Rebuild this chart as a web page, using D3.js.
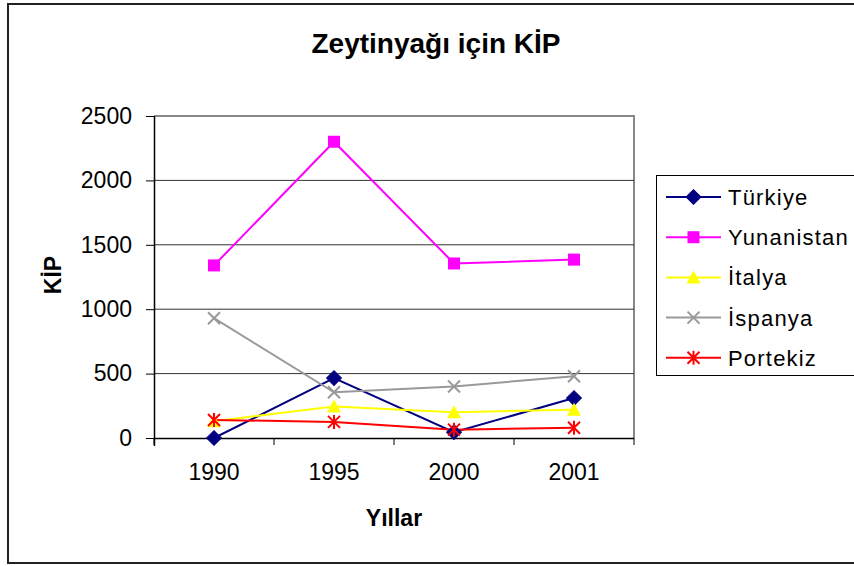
<!DOCTYPE html>
<html>
<head>
<meta charset="utf-8">
<script src="https://cdn.jsdelivr.net/npm/d3@7"></script>
<style>
  html, body { margin: 0; padding: 0; background: #fff; }
  svg text { font-family: "Liberation Sans", Arial, sans-serif; fill: #000; }
</style>
</head>
<body>
<svg id="chart" width="854" height="566"></svg>
<script>
// Olive oil KİP by country and year
const years = ["1990", "1995", "2000", "2001"];
const turkiye    = [0, 465, 45, 310];
const yunanistan = [1340, 2300, 1355, 1385];
const italya     = [130, 245, 200, 220];
const ispanya    = [930, 355, 400, 480];
const portekiz   = [140, 125, 65, 80];
const yTicks = [0, 500, 1000, 1500, 2000, 2500];

const series = [
  { name: "Türkiye",    values: turkiye,    color: "#000080", marker: "diamond" },
  { name: "Yunanistan", values: yunanistan, color: "#FF00FF", marker: "square" },
  { name: "İtalya",     values: italya,     color: "#FFFF00", marker: "triangle" },
  { name: "İspanya",    values: ispanya,    color: "#999999", marker: "cross" },
  { name: "Portekiz",   values: portekiz,   color: "#FF0000", marker: "star" }
];

const svg = d3.select("#chart");
const plot = { left: 154, top: 116, right: 634, bottom: 438 };

// outer frame
svg.append("rect")
  .attr("x", 8).attr("y", 4).attr("width", 852).attr("height", 559)
  .attr("fill", "none").attr("stroke", "#222").attr("stroke-width", 2);

const x = d3.scaleBand().domain(years).range([plot.left, plot.right]);
const y = d3.scaleLinear().domain([0, 2500]).range([plot.bottom, plot.top]);

// plot area border (top and right)
svg.append("path")
  .attr("d", `M${plot.left},${plot.top}H${plot.right}V${plot.bottom}`)
  .attr("fill", "none").attr("stroke", "#888").attr("stroke-width", 2);

// gridlines
svg.append("g").selectAll("line")
  .data(yTicks.filter(t => t > 0 && t < 2500))
  .join("line")
  .attr("x1", plot.left).attr("x2", plot.right)
  .attr("y1", d => y(d)).attr("y2", d => y(d))
  .attr("stroke", "#333").attr("stroke-width", 1);

// y axis
const yAxis = svg.append("g")
  .attr("transform", `translate(${plot.left},0)`)
  .call(d3.axisLeft(y).tickValues(yTicks).tickFormat(d3.format("d")).tickSize(8).tickPadding(14));
yAxis.attr("font-size", null).attr("font-family", null);
yAxis.select(".domain").attr("d", `M0.5,${plot.top}V${plot.bottom + 8}`).attr("stroke", "#000").attr("stroke-width", 1.5);
yAxis.selectAll(".tick line").attr("stroke", "#000");
yAxis.selectAll(".tick text").style("font-size", "23px");

// x axis
const xAxis = svg.append("g")
  .attr("transform", `translate(0,${plot.bottom})`)
  .call(d3.axisBottom(x).tickSize(0).tickPadding(26));
xAxis.attr("font-size", null).attr("font-family", null);
xAxis.select(".domain").attr("d", `M${plot.left},0.5H${plot.right}`).attr("stroke", "#000").attr("stroke-width", 1.5);
xAxis.selectAll(".tick text").style("font-size", "23px");
// category separators
xAxis.append("g").selectAll("line")
  .data(years.map(d => x(d)).concat([plot.right]))
  .join("line")
  .attr("x1", d => d).attr("x2", d => d)
  .attr("y1", 0).attr("y2", 7)
  .attr("stroke", "#000").attr("stroke-width", 1);

// titles
svg.append("text")
  .attr("x", 436).attr("y", 53).attr("text-anchor", "middle")
  .style("font-size", "28px").attr("font-weight", "bold")
  .text("Zeytinyağı için KİP");
svg.append("text")
  .attr("x", 394).attr("y", 526).attr("text-anchor", "middle")
  .style("font-size", "23px").attr("font-weight", "bold")
  .text("Yıllar");
svg.append("text")
  .attr("transform", "translate(61,275) rotate(-90)")
  .attr("text-anchor", "middle")
  .style("font-size", "23px").attr("font-weight", "bold")
  .text("KİP");

// marker drawing
function drawMarker(g, type, color) {
  if (type === "diamond") {
    g.append("path").attr("d", d3.symbol(d3.symbolSquare, 110)()).attr("transform", "rotate(45)")
      .attr("fill", color).attr("stroke", color);
  } else if (type === "square") {
    g.append("rect").attr("x", -6).attr("y", -6).attr("width", 12).attr("height", 12)
      .attr("fill", color);
  } else if (type === "triangle") {
    g.append("path").attr("d", "M0,-7L7,6L-7,6Z").attr("fill", color);
  } else if (type === "cross") {
    g.append("path").attr("d", "M-6,-6L6,6M-6,6L6,-6").attr("stroke", color).attr("stroke-width", 2);
  } else if (type === "star") {
    g.append("path").attr("d", "M-6,-6L6,6M-6,6L6,-6M0,-7V7").attr("stroke", color).attr("stroke-width", 2);
  }
}

const line = d3.line().x((d, i) => x(years[i]) + x.bandwidth() / 2).y(d => y(d));

series.forEach(s => {
  svg.append("path")
    .attr("d", line(s.values))
    .attr("fill", "none").attr("stroke", s.color).attr("stroke-width", 2);
});
series.forEach(s => {
  s.values.forEach((v, i) => {
    const g = svg.append("g")
      .attr("transform", `translate(${x(years[i]) + x.bandwidth() / 2},${y(v)})`);
    drawMarker(g, s.marker, s.color);
  });
});

// legend
const legend = svg.append("g");
legend.append("rect")
  .attr("x", 656.5).attr("y", 175.5).attr("width", 210).attr("height", 200)
  .attr("fill", "#fff").attr("stroke", "#000").attr("stroke-width", 1);
series.forEach((s, i) => {
  const cy = 197 + i * 40.2;
  const row = legend.append("g");
  row.append("line").attr("x1", 666).attr("x2", 721).attr("y1", cy).attr("y2", cy)
    .attr("stroke", s.color).attr("stroke-width", 2);
  drawMarker(row.append("g").attr("transform", `translate(693.5,${cy})`), s.marker, s.color);
  row.append("text").attr("x", 728).attr("y", cy + 8)
    .style("font-size", "22px").style("letter-spacing", "1.2px").text(s.name);
});
</script>
</body>
</html>
